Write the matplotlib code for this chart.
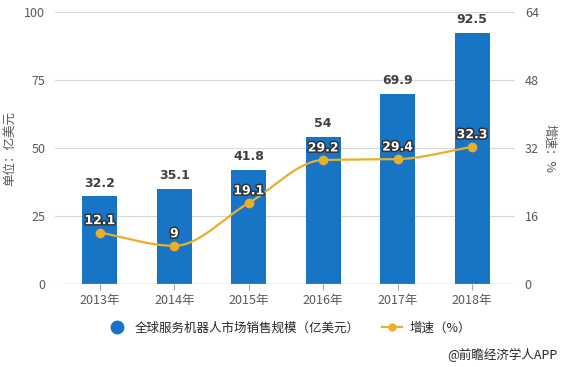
import matplotlib

matplotlib.use("Agg")
import matplotlib.pyplot as plt
import matplotlib.patheffects as pe
import numpy as np
from matplotlib.lines import Line2D

plt.rcParams["font.family"] = ["Noto Sans CJK SC", "DejaVu Sans"]

years = ["2013年", "2014年", "2015年", "2016年", "2017年", "2018年"]
market_size = [32.2, 35.1, 41.8, 54, 69.9, 92.5]
growth = [12.1, 9, 19.1, 29.2, 29.4, 32.3]
growth_labels = ["12.1", "9", "19.1", "29.2", "29.4", "32.3"]

BAR_COLOR = "#1874c4"
LINE_COLOR = "#e8ae2c"
TEXT_GRAY = "#595959"


def smooth(xs, ys, n=30):
    # monotone cubic (Fritsch-Carlson) through the data points, for drawing only
    xs = np.asarray(xs, float)
    ys = np.asarray(ys, float)
    h = np.diff(xs)
    d = np.diff(ys) / h
    m = np.zeros_like(ys)
    m[0], m[-1] = d[0], d[-1]
    for i in range(1, len(ys) - 1):
        if d[i - 1] * d[i] > 0:
            m[i] = 2 / (1 / d[i - 1] + 1 / d[i])
    px, py = [], []
    for i in range(len(xs) - 1):
        t = np.linspace(0, 1, n)
        h00 = 2 * t**3 - 3 * t**2 + 1
        h10 = t**3 - 2 * t**2 + t
        h01 = -2 * t**3 + 3 * t**2
        h11 = t**3 - t**2
        px.extend(xs[i] + t * h[i])
        py.extend(h00 * ys[i] + h10 * h[i] * m[i] + h01 * ys[i + 1] + h11 * h[i] * m[i + 1])
    return np.array(px), np.array(py)


fig = plt.figure(figsize=(5.66, 3.67), dpi=100)
ax = fig.add_axes([0.097, 0.226, 0.813, 0.741])
ax2 = ax.twinx()

x = np.arange(len(years))
ax.bar(x, market_size, width=0.47, color=BAR_COLOR, zorder=2)
for xi, v in zip(x, market_size):
    ax.annotate(f"{v:g}", (xi, v), xytext=(0, 5), textcoords="offset points",
                ha="center", va="bottom", fontsize=9, fontweight="bold",
                color="#404040", family=["DejaVu Sans"])

ax.set_xlim(-0.605, 5.578)
ax.set_ylim(0, 100)
ax.set_yticks([0, 25, 50, 75, 100])
ax.set_xticks(x)
ax.set_xticklabels(years)
ax.grid(axis="y", color="#d9d9d9", linewidth=0.8, zorder=0)
ax.set_axisbelow(True)
for s in ["top", "right", "left", "bottom"]:
    ax.spines[s].set_visible(False)
ax.hlines(0, -0.5, 5.5, color="#a6a6a6", linewidth=0.9, zorder=3)
ax.tick_params(axis="y", length=0, colors=TEXT_GRAY, labelsize=9, pad=7)
ax.tick_params(axis="x", length=4, color="#a6a6a6", colors=TEXT_GRAY, labelsize=9)
ax.set_ylabel("单位：亿美元", color=TEXT_GRAY, fontsize=9, labelpad=6)

sx, sy = smooth(x, growth)
ax2.plot(sx, sy, color=LINE_COLOR, linewidth=1.6, zorder=4)
ax2.plot(x, growth, "o", color=LINE_COLOR, markersize=6, zorder=5)
for xi, v, lab in zip(x, growth, growth_labels):
    ax2.annotate(lab, (xi, v), xytext=(0, 4), textcoords="offset points",
                 ha="center", va="bottom", fontsize=9, fontweight="bold",
                 color="white", family=["DejaVu Sans"], zorder=6,
                 path_effects=[pe.withStroke(linewidth=2.2, foreground="#333333")])
ax2.set_ylim(0, 64)
ax2.set_yticks([0, 16, 32, 48, 64])
for s in ["top", "right", "left", "bottom"]:
    ax2.spines[s].set_visible(False)
ax2.tick_params(axis="y", length=0, colors=TEXT_GRAY, labelsize=9, pad=7)
ax2.set_ylabel("增速：%", color=TEXT_GRAY, fontsize=9, rotation=270, labelpad=12)

handles = [
    Line2D([], [], marker="o", linestyle="none", color=BAR_COLOR, markersize=9),
    Line2D([], [], marker="o", color=LINE_COLOR, markersize=5, linewidth=1.6),
]
fig.legend(handles, ["全球服务机器人市场销售规模（亿美元）", "增速（%）"],
           loc="center", bbox_to_anchor=(0.51, 0.106), ncol=2, frameon=False,
           fontsize=9, handlelength=1.6, handletextpad=0.6, columnspacing=1.8,
           labelcolor="#262626")
fig.text(0.985, 0.033, "@前瞻经济学人APP", ha="right", va="center",
         fontsize=9, color="#262626")

fig.savefig("out.png", dpi=100)
